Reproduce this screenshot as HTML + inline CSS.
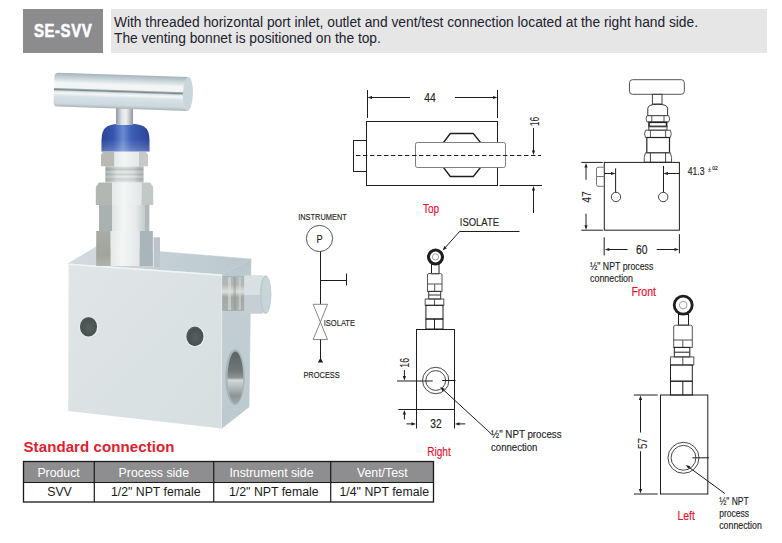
<!DOCTYPE html>
<html><head><meta charset="utf-8">
<style>
html,body{margin:0;padding:0;background:#fff;width:782px;height:543px;overflow:hidden;position:relative;font-family:"Liberation Sans",sans-serif;}
.a{position:absolute;}
#badge{left:23px;top:9px;width:80px;height:44px;background:#8c8c8e;color:#fff;font-weight:bold;font-size:18px;line-height:44px;text-align:center;-webkit-text-stroke:0.6px #fff;}
#badge span{display:inline-block;transform:scaleX(0.83);letter-spacing:0.7px;}
#desc{left:111px;top:9px;width:656px;height:44px;background:#e6e6e6;}
#desc div{position:absolute;left:3px;font-size:13.8px;letter-spacing:-0.02px;color:#22222e;white-space:nowrap;line-height:16px;}
#title{left:23.5px;top:438px;font-size:15px;font-weight:bold;color:#e0202e;white-space:nowrap;line-height:18px;letter-spacing:0.1px;}
svg{position:absolute;left:0;top:0;}
svg text{font-family:"Liberation Sans",sans-serif;}
</style></head><body>
<div id="badge" class="a"><span>SE-SVV</span></div>
<div id="desc" class="a">
<div style="top:6px">With threaded horizontal port inlet, outlet and vent/test connection located at the right hand side.</div>
<div style="top:22px">The venting bonnet is positioned on the top.</div>
</div>
<div id="title" class="a">Standard connection</div>
<svg width="782" height="543" viewBox="0 0 782 543">
<defs>
<linearGradient id="gHandle" x1="0" y1="0" x2="0" y2="1">
<stop offset="0" stop-color="#a4b2ba"/>
<stop offset="0.08" stop-color="#b8c6cc"/>
<stop offset="0.2" stop-color="#d6e0e4"/>
<stop offset="0.3" stop-color="#f4f6f6"/>
<stop offset="0.44" stop-color="#f2f4f4"/>
<stop offset="0.47" stop-color="#98a6ac"/>
<stop offset="0.5" stop-color="#7a888e"/>
<stop offset="0.54" stop-color="#dde4e6"/>
<stop offset="0.6" stop-color="#f4f6f6"/>
<stop offset="0.68" stop-color="#d8e2e6"/>
<stop offset="0.9" stop-color="#ccd8dc"/>
<stop offset="1" stop-color="#a8b6bc"/>
</linearGradient>
<linearGradient id="gStem" x1="0" y1="0" x2="1" y2="0">
<stop offset="0" stop-color="#8e989e"/>
<stop offset="0.35" stop-color="#dfe4e6"/>
<stop offset="0.6" stop-color="#eef0f0"/>
<stop offset="1" stop-color="#8e989e"/>
</linearGradient>
<linearGradient id="gBlue" x1="0" y1="0" x2="1" y2="0">
<stop offset="0" stop-color="#2a4496"/>
<stop offset="0.25" stop-color="#3656b0"/>
<stop offset="0.45" stop-color="#6a8ad0"/>
<stop offset="0.62" stop-color="#3e60b8"/>
<stop offset="1" stop-color="#2a4296"/>
</linearGradient>
<linearGradient id="gBlueV" x1="0" y1="0" x2="0" y2="1">
<stop offset="0" stop-color="#ffffff" stop-opacity="0"/>
<stop offset="0.55" stop-color="#ffffff" stop-opacity="0"/>
<stop offset="0.8" stop-color="#ffffff" stop-opacity="0.12"/>
<stop offset="1" stop-color="#ffffff" stop-opacity="0.25"/>
</linearGradient>
<linearGradient id="gNut" x1="0" y1="0" x2="1" y2="0">
<stop offset="0" stop-color="#9aa4a4"/>
<stop offset="0.14" stop-color="#b6bebe"/>
<stop offset="0.2" stop-color="#a4acac"/>
<stop offset="0.3" stop-color="#e6eaea"/>
<stop offset="0.55" stop-color="#f6f8f8"/>
<stop offset="0.72" stop-color="#e2e6e6"/>
<stop offset="0.8" stop-color="#a8b0b2"/>
<stop offset="1" stop-color="#b6bebe"/>
</linearGradient>
<linearGradient id="gThread" x1="0" y1="0" x2="0" y2="1">
<stop offset="0" stop-color="#c8cccc"/>
<stop offset="0.2" stop-color="#8a9294"/>
<stop offset="0.35" stop-color="#d8dcdc"/>
<stop offset="0.5" stop-color="#9aa2a4"/>
<stop offset="0.65" stop-color="#dadede"/>
<stop offset="0.8" stop-color="#9ca4a4"/>
<stop offset="1" stop-color="#d0d4d4"/>
</linearGradient>
<linearGradient id="gBody" x1="0" y1="0" x2="1" y2="0">
<stop offset="0" stop-color="#9ca6a6"/>
<stop offset="0.15" stop-color="#bcc4c4"/>
<stop offset="0.3" stop-color="#eef0f0"/>
<stop offset="0.55" stop-color="#f6f8f8"/>
<stop offset="0.75" stop-color="#e0e4e4"/>
<stop offset="0.9" stop-color="#b0b8ba"/>
<stop offset="1" stop-color="#a8b2b4"/>
</linearGradient>
<linearGradient id="gTop" x1="0" y1="0" x2="1" y2="0">
<stop offset="0" stop-color="#d2dce0"/>
<stop offset="0.5" stop-color="#c4d0d5"/>
<stop offset="1" stop-color="#bac8ce"/>
</linearGradient>
<linearGradient id="gFront" x1="0" y1="0" x2="1" y2="1">
<stop offset="0" stop-color="#e0e6e7"/>
<stop offset="0.5" stop-color="#dbe2e4"/>
<stop offset="1" stop-color="#d6dee0"/>
</linearGradient>
<linearGradient id="gSide" x1="0" y1="0" x2="0" y2="1">
<stop offset="0" stop-color="#b8c6cc"/>
<stop offset="0.3" stop-color="#c2ced3"/>
<stop offset="1" stop-color="#bccad0"/>
</linearGradient>
<radialGradient id="gHole" cx="0.55" cy="0.55" r="0.6">
<stop offset="0" stop-color="#56605e"/>
<stop offset="0.75" stop-color="#47514f"/>
<stop offset="1" stop-color="#606a6a"/>
</radialGradient>
<linearGradient id="gPort" x1="0" y1="0" x2="0" y2="1">
<stop offset="0" stop-color="#5c6466"/>
<stop offset="0.35" stop-color="#6e7678"/>
<stop offset="0.5" stop-color="#8a9294"/>
<stop offset="0.55" stop-color="#d4dadc"/>
<stop offset="0.68" stop-color="#b4bcbe"/>
<stop offset="0.85" stop-color="#8c9496"/>
<stop offset="1" stop-color="#a0a8aa"/>
</linearGradient>
<linearGradient id="gFitThr" x1="0" y1="0" x2="0" y2="1">
<stop offset="0" stop-color="#aab6bc"/>
<stop offset="0.25" stop-color="#b4b8b4"/>
<stop offset="0.45" stop-color="#dcdeda"/>
<stop offset="0.6" stop-color="#a4a8a4"/>
<stop offset="1" stop-color="#a8b0b0"/>
</linearGradient>
<linearGradient id="gFitHex" x1="0" y1="0" x2="0" y2="1">
<stop offset="0" stop-color="#c4d0d4"/>
<stop offset="0.38" stop-color="#d4dee0"/>
<stop offset="0.42" stop-color="#e4e8e8"/>
<stop offset="0.6" stop-color="#cdd4d6"/>
<stop offset="1" stop-color="#b8c2c6"/>
</linearGradient>
<linearGradient id="gFaceL" x1="0" y1="0" x2="0" y2="1">
<stop offset="0" stop-color="#a8aca6"/>
<stop offset="0.7" stop-color="#a2a49a"/>
<stop offset="1" stop-color="#b0b4ae"/>
</linearGradient>
<linearGradient id="gFaceC" x1="0" y1="0" x2="1" y2="0">
<stop offset="0" stop-color="#e4e8e8"/>
<stop offset="0.4" stop-color="#f4f6f6"/>
<stop offset="1" stop-color="#e2e6e6"/>
</linearGradient>
<linearGradient id="gFaceC2" x1="0" y1="0" x2="1" y2="0">
<stop offset="0" stop-color="#dfe4e4"/>
<stop offset="0.35" stop-color="#f4f6f6"/>
<stop offset="0.7" stop-color="#e6eaea"/>
<stop offset="1" stop-color="#c4cccc"/>
</linearGradient>
</defs>
<g id="photo">
<!-- block -->
<polygon points="222,274.5 251,259 249,407 221.5,428.5" fill="url(#gSide)" stroke="#bcc9cf" stroke-width="0.6"/>
<polygon points="68.6,263.5 97,246.5 251,259 222,274.5" fill="url(#gTop)" stroke="#c2ced3" stroke-width="0.6"/>
<polygon points="68.6,263.5 222,274.5 221.5,428.5 68.2,411" fill="url(#gFront)"/>
<polyline points="68.6,264.2 222,275.2" stroke="#f0f4f4" stroke-width="1.6" fill="none"/>
<line x1="221.8" y1="275" x2="221.5" y2="428" stroke="#e6ecee" stroke-width="1"/>
<!-- holes -->
<ellipse cx="88.8" cy="327" rx="9.6" ry="10.4" fill="#eef2f2"/>
<ellipse cx="88.5" cy="326.8" rx="8.6" ry="9.8" fill="url(#gHole)"/>
<ellipse cx="195.2" cy="336.6" rx="9.6" ry="10.4" fill="#eef2f2"/>
<ellipse cx="194.9" cy="336.4" rx="8.6" ry="9.8" fill="url(#gHole)"/>
<!-- side port -->
<ellipse cx="235" cy="377.2" rx="9.7" ry="28" fill="#aab4b8"/>
<ellipse cx="235.4" cy="377.6" rx="7.8" ry="26" fill="url(#gPort)"/>
<!-- side fitting -->
<rect x="222.2" y="276" width="22.3" height="35" fill="url(#gFitThr)"/>
<rect x="228" y="277" width="3" height="33" fill="#e2e4e0" opacity="0.55"/>
<rect x="233.5" y="277" width="2.5" height="33" fill="#8e9694" opacity="0.45"/>
<rect x="238.5" y="277" width="2.5" height="33" fill="#dcdedc" opacity="0.5"/>
<path d="M244.3,275.5 L262,275.5 L264,277 L264,312 L262,313.8 L244.3,313.8 Z" fill="#c6d0d4"/>
<path d="M244.3,275.5 L262,275.5 L264,277 L264,295 L244.3,295 Z" fill="#d8e0e2"/>
<ellipse cx="265.6" cy="294.6" rx="5.8" ry="19.2" fill="#bccad0"/>
<ellipse cx="266.2" cy="294.6" rx="4.6" ry="17.8" fill="#c8d4d8"/>
<!-- bonnet lower hex -->
<rect x="152.8" y="237.3" width="7.2" height="30" fill="#bcc6ca"/>
<rect x="152.8" y="237.3" width="1.2" height="30" fill="#dfe5e7"/>
<rect x="96.2" y="231" width="14.5" height="35" fill="url(#gFaceL)"/>
<rect x="110.7" y="231" width="29" height="35" fill="url(#gFaceC)"/>
<rect x="139.7" y="231" width="13.1" height="35" fill="#aab5b9"/>
<!-- body -->
<rect x="99" y="199" width="13" height="32" fill="#a9b1b1"/>
<rect x="112" y="199" width="33" height="32" fill="url(#gFaceC2)"/>
<rect x="145" y="199" width="4.4" height="32" fill="#b0b8ba"/>
<!-- big nut -->
<path d="M95.8,205 L95.8,187 L99,182.4 L112,182.4 L112,205 Z" fill="#b2b7b4"/>
<rect x="112" y="182.4" width="29.6" height="22.6" fill="url(#gFaceC)"/>
<path d="M141.6,182.4 L150,182.4 L153.2,187 L153.2,205 L141.6,205 Z" fill="#c2c7c7"/>
<!-- thread -->
<rect x="105.5" y="166.3" width="38" height="16.1" fill="url(#gBody)"/>
<rect x="105.5" y="166.3" width="38" height="16.1" fill="url(#gThread)" opacity="0.45"/>
<!-- upper hex -->
<path d="M101,166.3 L101,155 L103,152.1 L114.5,152.1 L114.5,166.3 Z" fill="#b9bbb3"/>
<rect x="114.5" y="152.1" width="24.5" height="14.2" fill="url(#gFaceC)"/>
<path d="M139,152.1 L146,152.1 L148,155 L148,166.3 L139,166.3 Z" fill="#c6c9c7"/>
<!-- blue cap -->
<path d="M101.5,151.5 L101.5,140 Q101.5,130 107,126.5 Q112,123.6 125.5,123.6 Q139,123.6 144,126.5 Q149.5,130 149.5,140 L149.5,151.5 Z" fill="url(#gBlue)"/>
<path d="M101.5,151.5 L101.5,140 Q101.5,130 107,126.5 Q112,123.6 125.5,123.6 Q139,123.6 144,126.5 Q149.5,130 149.5,140 L149.5,151.5 Z" fill="url(#gBlueV)"/>
<!-- stem -->
<rect x="116" y="105" width="17" height="20" fill="url(#gStem)"/>
<!-- handle -->
<g transform="rotate(1.9 54 89)">
<path d="M58,72.5 L188,72.5 L188,106.5 L58,106.5 Q54,106.5 54,102 L54,77 Q54,72.5 58,72.5 Z" fill="url(#gHandle)"/>
<ellipse cx="188" cy="89.5" rx="5" ry="17" fill="#c9d6dc"/>
</g>
</g>

<g id="table">
<rect x="23.5" y="461.5" width="410" height="21" fill="#8e8e90"/>
<rect x="23.5" y="461.5" width="410" height="40.5" fill="none" stroke="#1a1a1a" stroke-width="1.3"/>
<line x1="94.3" y1="461.5" x2="94.3" y2="502" stroke="#1a1a1a" stroke-width="1.2"/>
<line x1="213.7" y1="461.5" x2="213.7" y2="502" stroke="#1a1a1a" stroke-width="1.2"/>
<line x1="330.7" y1="461.5" x2="330.7" y2="502" stroke="#1a1a1a" stroke-width="1.2"/>
<line x1="23.5" y1="482.5" x2="433.5" y2="482.5" stroke="#1a1a1a" stroke-width="1"/>
<g font-size="12.3" text-anchor="middle" fill="#fff">
<text x="58.6" y="477">Product</text><text x="153.8" y="477">Process side</text><text x="271.5" y="477">Instrument side</text><text x="382.3" y="477">Vent/Test</text>
</g>
<g font-size="12.3" text-anchor="middle" fill="#1a1a1a">
<text x="59.5" y="496.2">SVV</text><text x="155.7" y="496.2">1/2" NPT female</text><text x="273.8" y="496.2">1/2" NPT female</text><text x="384.3" y="496.2">1/4" NPT female</text>
</g>
</g>
<g id="draw">
<line x1="367.5" y1="90" x2="367.5" y2="118" stroke="#1e1e1e" stroke-width="1.0"/>
<line x1="497.5" y1="90" x2="497.5" y2="118" stroke="#1e1e1e" stroke-width="1.0"/>
<line x1="410" y1="97.5" x2="371.50" y2="97.50" stroke="#1e1e1e" stroke-width="1.0"/>
<polygon points="367.50,97.50 372.00,95.90 372.00,99.10" fill="#1e1e1e"/>
<line x1="455" y1="97.5" x2="493.50" y2="97.50" stroke="#1e1e1e" stroke-width="1.0"/>
<polygon points="497.50,97.50 493.00,99.10 493.00,95.90" fill="#1e1e1e"/>
<text x="424.2" y="101.8" font-size="12.3" fill="#1e1e1e" stroke="#1e1e1e" stroke-width="0.15" textLength="11.5" lengthAdjust="spacingAndGlyphs" >44</text>
<rect x="366.5" y="121.5" width="131" height="64" rx="0" fill="none" stroke="#1e1e1e" stroke-width="1.0"/>
<rect x="353.5" y="140.5" width="13" height="31" rx="0" fill="none" stroke="#1e1e1e" stroke-width="1.0"/>
<polyline points="443.5,142.5 450.3,133.5 473.3,133.5 480.5,142.5" fill="none" stroke="#1e1e1e" stroke-width="1.3" stroke-linejoin="round"/>
<polyline points="443.5,167.5 450.3,176.5 473.3,176.5 480.5,167.5" fill="none" stroke="#1e1e1e" stroke-width="1.3" stroke-linejoin="round"/>
<rect x="415.5" y="142.5" width="90" height="25" rx="1.8" fill="#fff" stroke="#707070" stroke-width="0.9"/>
<line x1="353" y1="155.5" x2="541" y2="155.5" stroke="#1e1e1e" stroke-width="1" stroke-dasharray="4.4,2.6" stroke-dashoffset="-3"/>
<line x1="533.5" y1="128" x2="533.50" y2="151.00" stroke="#1e1e1e" stroke-width="1.0"/>
<polygon points="533.50,155.00 531.90,150.50 535.10,150.50" fill="#1e1e1e"/>
<line x1="499.5" y1="185.5" x2="542" y2="185.5" stroke="#1e1e1e" stroke-width="1.0"/>
<line x1="533.5" y1="213" x2="533.50" y2="190.00" stroke="#1e1e1e" stroke-width="1.0"/>
<polygon points="533.50,186.00 535.10,190.50 531.90,190.50" fill="#1e1e1e"/>
<text transform="translate(538.8,126.2) rotate(-90)" x="0" y="0" font-size="12.3" fill="#1e1e1e" textLength="9.5" lengthAdjust="spacingAndGlyphs">16</text>
<text x="422.9" y="212.9" font-size="13.2" fill="#e4122e" stroke="#e4122e" stroke-width="0.15" textLength="16.1" lengthAdjust="spacingAndGlyphs" >Top</text>
<text x="298.2" y="219.8" font-size="9.3" fill="#1e1e1e" stroke="#1e1e1e" stroke-width="0.15" textLength="48.6" lengthAdjust="spacingAndGlyphs" >INSTRUMENT</text>
<circle cx="319.5" cy="238.5" r="13.1" fill="none" stroke="#555" stroke-width="1"/>
<text x="316.6" y="242.5" font-size="10.6" fill="#1e1e1e" stroke="#1e1e1e" stroke-width="0.15" textLength="6.2" lengthAdjust="spacingAndGlyphs" >P</text>
<line x1="320.5" y1="251.6" x2="320.5" y2="304.3" stroke="#1e1e1e" stroke-width="1.0"/>
<line x1="320.5" y1="280.5" x2="346.5" y2="280.5" stroke="#1e1e1e" stroke-width="1.0"/>
<line x1="346.5" y1="273.5" x2="346.5" y2="285.5" stroke="#1e1e1e" stroke-width="1.0"/>
<polyline points="313.1,304.3 327.5,304.3 320.4,322 313.1,339.6 327.5,339.6 320.4,322 313.1,304.3" fill="none" stroke="#888" stroke-width="1" stroke-linejoin="round"/>
<line x1="320.5" y1="339.6" x2="320.5" y2="359" stroke="#1e1e1e" stroke-width="1.0"/>
<polygon points="320.5,357.8 317.8,362.4 323.2,362.4" fill="#1e1e1e"/>
<text x="323.7" y="326.4" font-size="9.6" fill="#1e1e1e" stroke="#1e1e1e" stroke-width="0.15" textLength="31.3" lengthAdjust="spacingAndGlyphs" >ISOLATE</text>
<text x="303.4" y="377.6" font-size="9.2" fill="#1e1e1e" stroke="#1e1e1e" stroke-width="0.15" textLength="36.4" lengthAdjust="spacingAndGlyphs" >PROCESS</text>
<text x="459.8" y="226.1" font-size="11.7" fill="#1e1e1e" stroke="#1e1e1e" stroke-width="0.15" textLength="39.2" lengthAdjust="spacingAndGlyphs" >ISOLATE</text>
<line x1="459.4" y1="231.5" x2="519.5" y2="231.5" stroke="#1e1e1e" stroke-width="1.0"/>
<line x1="459.6" y1="231.5" x2="445.27" y2="247.52" stroke="#1e1e1e" stroke-width="1.0"/>
<polygon points="442.60,250.50 444.41,246.08 446.79,248.21" fill="#1e1e1e"/>
<circle cx="435.5" cy="257" r="7.0" fill="none" stroke="#1e1e1e" stroke-width="3.1"/>
<circle cx="435.5" cy="257" r="3.1" fill="none" stroke="#888" stroke-width="0.8"/>
<rect x="431.5" y="264.5" width="7.5" height="9.3" rx="0" fill="none" stroke="#1e1e1e" stroke-width="1.0"/>
<path d="M427.5,284 L427.5,275 Q427.5,273.5 429,273.5 L440.5,273.5 Q442,273.5 442,275 L442,284" fill="none" stroke="#555" stroke-width="1"/>
<rect x="427.5" y="284" width="14.5" height="7.4" rx="0" fill="none" stroke="#555" stroke-width="1"/>
<line x1="434.7" y1="284" x2="434.7" y2="291.4" stroke="#555" stroke-width="1"/>
<rect x="428.7" y="291.4" width="12" height="7.6" rx="0" fill="none" stroke="#333" stroke-width="1"/>
<line x1="428.7" y1="295" x2="440.7" y2="295" stroke="#333" stroke-width="1"/>
<rect x="425.2" y="299" width="18.6" height="6.3" rx="0" fill="none" stroke="#555" stroke-width="1"/>
<line x1="434.5" y1="299" x2="434.5" y2="305.3" stroke="#555" stroke-width="1"/>
<rect x="425.9" y="305.3" width="17.1" height="13.7" rx="0" fill="none" stroke="#1e1e1e" stroke-width="1.0"/>
<rect x="425.9" y="319" width="17.1" height="10" rx="0" fill="none" stroke="#1e1e1e" stroke-width="1.0"/>
<line x1="434.5" y1="319" x2="434.5" y2="329" stroke="#1e1e1e" stroke-width="1.0"/>
<rect x="416.5" y="329.5" width="38" height="80" rx="0" fill="none" stroke="#1e1e1e" stroke-width="1.0"/>
<circle cx="435.7" cy="380.5" r="13.2" fill="none" stroke="#333" stroke-width="0.9"/>
<circle cx="435.7" cy="380.5" r="9.9" fill="none" stroke="#333" stroke-width="0.9"/>
<line x1="397" y1="381" x2="432.8" y2="381" stroke="#1e1e1e" stroke-width="1.0"/>
<line x1="442.2" y1="380.5" x2="455.6" y2="380.5" stroke="#1e1e1e" stroke-width="1.0"/>
<line x1="404.4" y1="370" x2="404.40" y2="376.50" stroke="#1e1e1e" stroke-width="1.0"/>
<polygon points="404.40,380.50 402.80,376.00 406.00,376.00" fill="#1e1e1e"/>
<text transform="translate(409.4,367.7) rotate(-90)" x="0" y="0" font-size="12.3" fill="#1e1e1e" textLength="9.7" lengthAdjust="spacingAndGlyphs">16</text>
<line x1="398.3" y1="409.5" x2="416.5" y2="409.5" stroke="#1e1e1e" stroke-width="1.0"/>
<line x1="404.4" y1="419.5" x2="404.40" y2="414.00" stroke="#1e1e1e" stroke-width="1.0"/>
<polygon points="404.40,410.00 406.00,414.50 402.80,414.50" fill="#1e1e1e"/>
<line x1="416.5" y1="409.5" x2="416.5" y2="428.5" stroke="#1e1e1e" stroke-width="1.0"/>
<line x1="454.5" y1="409.5" x2="454.5" y2="428.5" stroke="#1e1e1e" stroke-width="1.0"/>
<line x1="406.4" y1="423.9" x2="412.00" y2="423.90" stroke="#1e1e1e" stroke-width="1.0"/>
<polygon points="416.00,423.90 411.50,425.50 411.50,422.30" fill="#1e1e1e"/>
<line x1="465.3" y1="423.9" x2="459.00" y2="423.90" stroke="#1e1e1e" stroke-width="1.0"/>
<polygon points="455.00,423.90 459.50,422.30 459.50,425.50" fill="#1e1e1e"/>
<text x="430.2" y="428.1" font-size="12.3" fill="#1e1e1e" stroke="#1e1e1e" stroke-width="0.15" textLength="11.4" lengthAdjust="spacingAndGlyphs" >32</text>
<line x1="492.5" y1="435" x2="443.24" y2="389.71" stroke="#1e1e1e" stroke-width="1.0"/>
<polygon points="440.30,387.00 444.70,388.87 442.53,391.22" fill="#1e1e1e"/>
<text x="491" y="437.5" font-size="10.8" fill="#1e1e1e" stroke="#1e1e1e" stroke-width="0.15" textLength="70.6" lengthAdjust="spacingAndGlyphs" >½" NPT process</text>
<text x="491" y="450.6" font-size="10.8" fill="#1e1e1e" stroke="#1e1e1e" stroke-width="0.15" textLength="46.4" lengthAdjust="spacingAndGlyphs" >connection</text>
<text x="427.3" y="455.7" font-size="12" fill="#e4122e" stroke="#e4122e" stroke-width="0.15" textLength="23.4" lengthAdjust="spacingAndGlyphs" >Right</text>
<rect x="629.5" y="79.7" width="54.8" height="14.6" rx="3" fill="none" stroke="#555" stroke-width="1"/>
<rect x="652.4" y="94.3" width="9.6" height="9.7" rx="0" fill="none" stroke="#444" stroke-width="1"/>
<path d="M647.8,115.6 L647.8,108.5 Q647.8,104.3 657.7,104.3 Q667.6,104.3 667.6,108.5 L667.6,115.6 Z" fill="none" stroke="#333" stroke-width="1"/>
<path d="M647,115.6 L668.7,115.6 Q670.5,118.8 668.7,122 L647,122 Q645.2,118.8 647,115.6 Z" fill="none" stroke="#555" stroke-width="1"/>
<line x1="651.8" y1="115.6" x2="651.8" y2="122" stroke="#555" stroke-width="1"/>
<line x1="664" y1="115.6" x2="664" y2="122" stroke="#555" stroke-width="1"/>
<rect x="649" y="122.3" width="17.6" height="4.1" rx="0" fill="none" stroke="#222" stroke-width="1.6"/>
<rect x="648.8" y="126.6" width="18.2" height="3.6" rx="0" fill="none" stroke="#444" stroke-width="1"/>
<path d="M645.5,130.2 L670.3,130.2 Q672.2,133.8 670.3,137.5 L645.5,137.5 Q643.6,133.8 645.5,130.2 Z" fill="none" stroke="#555" stroke-width="1"/>
<line x1="650.4" y1="130.2" x2="650.4" y2="137.5" stroke="#555" stroke-width="1"/>
<line x1="665.6" y1="130.2" x2="665.6" y2="137.5" stroke="#555" stroke-width="1"/>
<rect x="646.8" y="137.5" width="22.7" height="15.2" rx="0" fill="none" stroke="#222" stroke-width="1.2"/>
<path d="M645.5,152.7 L670.3,152.7 Q672.2,157.4 671.5,162.2 L644.3,162.2 Q643.6,157.4 645.5,152.7 Z" fill="none" stroke="#555" stroke-width="1"/>
<line x1="650.4" y1="152.7" x2="650.4" y2="162.2" stroke="#444" stroke-width="1"/>
<line x1="665.6" y1="152.7" x2="665.6" y2="162.2" stroke="#444" stroke-width="1"/>
<rect x="604.3" y="162.4" width="75.1" height="67.8" rx="0" fill="none" stroke="#1e1e1e" stroke-width="1.0"/>
<path d="M604.3,167.2 L598,167.2 Q596.5,167.2 596.5,169 L596.5,176.5 L604.3,176.5 M604.3,176.5 L596.5,176.5 L596.5,184.5 Q596.5,186.3 598,186.3 L604.3,186.3" fill="none" stroke="#777" stroke-width="1"/>
<line x1="581.3" y1="162.4" x2="602.9" y2="162.4" stroke="#1e1e1e" stroke-width="1.0"/>
<line x1="581.3" y1="230.2" x2="602.9" y2="230.2" stroke="#1e1e1e" stroke-width="1.0"/>
<line x1="586" y1="179.8" x2="586.00" y2="167.00" stroke="#1e1e1e" stroke-width="1.0"/>
<polygon points="586.00,163.00 587.60,167.50 584.40,167.50" fill="#1e1e1e"/>
<line x1="586" y1="213.7" x2="586.00" y2="225.80" stroke="#1e1e1e" stroke-width="1.0"/>
<polygon points="586.00,229.80 584.40,225.30 587.60,225.30" fill="#1e1e1e"/>
<text transform="translate(590.7,202.8) rotate(-90)" x="0" y="0" font-size="12.3" fill="#1e1e1e" textLength="11.5" lengthAdjust="spacingAndGlyphs">47</text>
<line x1="604.3" y1="173.5" x2="611.50" y2="173.50" stroke="#1e1e1e" stroke-width="1.0"/>
<polygon points="615.50,173.50 611.00,175.10 611.00,171.90" fill="#1e1e1e"/>
<line x1="615.6" y1="168.3" x2="615.6" y2="192.3" stroke="#1e1e1e" stroke-width="1.0"/>
<circle cx="616" cy="197" r="4.7" fill="none" stroke="#444" stroke-width="1"/>
<line x1="679.4" y1="173.5" x2="667.50" y2="173.50" stroke="#1e1e1e" stroke-width="1.0"/>
<polygon points="663.50,173.50 668.00,171.90 668.00,175.10" fill="#1e1e1e"/>
<line x1="663.5" y1="166" x2="663.5" y2="192.3" stroke="#1e1e1e" stroke-width="1.0"/>
<circle cx="663.2" cy="197" r="4.7" fill="none" stroke="#444" stroke-width="1"/>
<text x="687.7" y="175" font-size="10.5" fill="#1e1e1e" stroke="#1e1e1e" stroke-width="0.15" textLength="16.8" lengthAdjust="spacingAndGlyphs" >41.3</text>
<text x="707.9" y="171.5" font-size="7" fill="#1e1e1e" stroke="#1e1e1e" stroke-width="0.15" textLength="3.1" lengthAdjust="spacingAndGlyphs" >±</text>
<text x="712.2" y="169.6" font-size="4.8" fill="#1e1e1e" stroke="#1e1e1e" stroke-width="0.15" textLength="5.5" lengthAdjust="spacingAndGlyphs" >02</text>
<line x1="604.2" y1="237.3" x2="604.2" y2="255.4" stroke="#1e1e1e" stroke-width="1.0"/>
<line x1="679.4" y1="234.2" x2="679.4" y2="253.4" stroke="#1e1e1e" stroke-width="1.0"/>
<line x1="627.6" y1="249.5" x2="608.80" y2="249.50" stroke="#1e1e1e" stroke-width="1.0"/>
<polygon points="604.80,249.50 609.30,247.90 609.30,251.10" fill="#1e1e1e"/>
<line x1="656.7" y1="249.5" x2="675.00" y2="249.50" stroke="#1e1e1e" stroke-width="1.0"/>
<polygon points="679.00,249.50 674.50,251.10 674.50,247.90" fill="#1e1e1e"/>
<text x="636" y="254.2" font-size="12.3" fill="#1e1e1e" stroke="#1e1e1e" stroke-width="0.15" textLength="11.5" lengthAdjust="spacingAndGlyphs" >60</text>
<text x="590" y="270.3" font-size="10.5" fill="#1e1e1e" stroke="#1e1e1e" stroke-width="0.15" textLength="63.3" lengthAdjust="spacingAndGlyphs" >½" NPT process</text>
<text x="590" y="281.5" font-size="10.5" fill="#1e1e1e" stroke="#1e1e1e" stroke-width="0.15" textLength="43" lengthAdjust="spacingAndGlyphs" >connection</text>
<text x="631.4" y="295.9" font-size="12.3" fill="#e4122e" stroke="#e4122e" stroke-width="0.15" textLength="24.6" lengthAdjust="spacingAndGlyphs" >Front</text>
<circle cx="683.2" cy="305.1" r="9.0" fill="none" stroke="#1e1e1e" stroke-width="2.8"/>
<circle cx="683.2" cy="305.1" r="3.8" fill="none" stroke="#888" stroke-width="0.8"/>
<rect x="678.5" y="314.4" width="10" height="10.8" rx="0" fill="none" stroke="#1e1e1e" stroke-width="1.0"/>
<path d="M673.7,340 L673.7,327 Q673.7,325.2 675.5,325.2 L690.5,325.2 Q692.3,325.2 692.3,327 L692.3,340" fill="none" stroke="#555" stroke-width="1"/>
<rect x="673.7" y="340" width="18.6" height="7.4" rx="0" fill="none" stroke="#555" stroke-width="1"/>
<line x1="682.8" y1="340" x2="682.8" y2="347.4" stroke="#555" stroke-width="1"/>
<rect x="674.3" y="347.4" width="15.5" height="9.5" rx="0" fill="none" stroke="#1e1e1e" stroke-width="1.0"/>
<line x1="674.3" y1="352.2" x2="689.8" y2="352.2" stroke="#1e1e1e" stroke-width="1.0"/>
<rect x="670.5" y="356.9" width="23.3" height="8.1" rx="0" fill="none" stroke="#555" stroke-width="1"/>
<line x1="682.8" y1="356.9" x2="682.8" y2="365" stroke="#555" stroke-width="1"/>
<rect x="670.5" y="365" width="21.8" height="16.2" rx="0" fill="none" stroke="#1e1e1e" stroke-width="1.0"/>
<rect x="670.5" y="381.2" width="21.8" height="13.8" rx="0" fill="none" stroke="#1e1e1e" stroke-width="1.0"/>
<line x1="682.8" y1="381.2" x2="682.8" y2="395" stroke="#1e1e1e" stroke-width="1.0"/>
<rect x="660.5" y="395" width="47.3" height="99" rx="0" fill="none" stroke="#1e1e1e" stroke-width="1.0"/>
<line x1="633.8" y1="395" x2="657.7" y2="395" stroke="#1e1e1e" stroke-width="1.0"/>
<line x1="633.8" y1="494" x2="657.7" y2="494" stroke="#1e1e1e" stroke-width="1.0"/>
<line x1="640.5" y1="432.5" x2="640.50" y2="399.50" stroke="#1e1e1e" stroke-width="1.0"/>
<polygon points="640.50,395.50 642.10,400.00 638.90,400.00" fill="#1e1e1e"/>
<line x1="640.5" y1="451.2" x2="640.50" y2="489.50" stroke="#1e1e1e" stroke-width="1.0"/>
<polygon points="640.50,493.50 638.90,489.00 642.10,489.00" fill="#1e1e1e"/>
<text transform="translate(647,449) rotate(-90)" x="0" y="0" font-size="12.3" fill="#1e1e1e" textLength="11" lengthAdjust="spacingAndGlyphs">57</text>
<circle cx="683.5" cy="457.8" r="15.5" fill="none" stroke="#333" stroke-width="0.9"/>
<circle cx="683.5" cy="457.8" r="12.4" fill="none" stroke="#333" stroke-width="0.9"/>
<line x1="692.3" y1="457.8" x2="708.9" y2="457.8" stroke="#1e1e1e" stroke-width="1.0"/>
<line x1="724.8" y1="493.5" x2="688.93" y2="467.26" stroke="#1e1e1e" stroke-width="1.0"/>
<polygon points="685.70,464.90 690.28,466.27 688.39,468.85" fill="#1e1e1e"/>
<text x="719.2" y="504.8" font-size="10" fill="#1e1e1e" stroke="#1e1e1e" stroke-width="0.15" textLength="29.5" lengthAdjust="spacingAndGlyphs" >½" NPT</text>
<text x="719.2" y="517.4" font-size="10" fill="#1e1e1e" stroke="#1e1e1e" stroke-width="0.15" textLength="29.9" lengthAdjust="spacingAndGlyphs" >process</text>
<text x="719.2" y="529.4" font-size="10" fill="#1e1e1e" stroke="#1e1e1e" stroke-width="0.15" textLength="42.6" lengthAdjust="spacingAndGlyphs" >connection</text>
<text x="677.4" y="519.8" font-size="12.5" fill="#e4122e" stroke="#e4122e" stroke-width="0.15" textLength="17.4" lengthAdjust="spacingAndGlyphs" >Left</text>
</g>
</svg>
</body></html>
